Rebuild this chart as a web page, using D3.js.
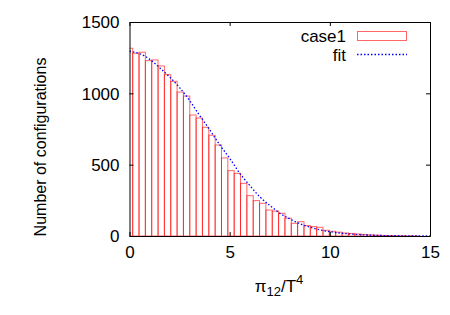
<!DOCTYPE html>
<html>
<head>
<meta charset="utf-8">
<script src="https://cdn.jsdelivr.net/npm/d3@7"></script>
<style>
  body { margin: 0; background: #fff; }
  text { font-family: "Liberation Sans", Arial, sans-serif; fill: #000; }
</style>
</head>
<body>
<div id="chart"></div>
<script>
// histogram bins (centres, in units of pi12/T^4) and counts
var binCenters = [0, 0.317, 0.633, 0.95, 1.267, 1.583, 1.9, 2.217, 2.533, 2.85,
  3.167, 3.483, 3.8, 4.117, 4.433, 4.75, 5.067, 5.383, 5.7, 6.017,
  6.333, 6.65, 6.967, 7.283, 7.6, 7.917, 8.233, 8.55, 8.867, 9.183,
  9.5, 9.817, 10.133, 10.45, 10.767, 11.083, 11.4, 11.717, 12.033, 12.35,
  12.667, 12.983, 13.3, 13.617, 13.933, 14.25];
var binCounts = [1316, 1281, 1288, 1229, 1234, 1192, 1131, 1084, 1009, 981,
  848, 827, 762, 706, 638, 547, 458, 439, 369, 283,
  248, 229, 182, 175, 159, 125, 89, 100, 73, 66,
  61, 40, 33, 27, 21, 18, 14, 11, 8, 6,
  4, 3, 2, 2, 1, 1];
var binWidth = 0.3167;

// fit curve
var fitX = [0, 0.5, 1, 1.5, 2, 2.5, 3, 3.5, 4, 4.5, 5, 5.5, 6, 6.5, 7, 7.5,
  8, 8.5, 9, 9.5, 10, 10.5, 11, 11.5, 12, 12.5, 13, 13.5, 14, 14.5, 15];
var fitY = [1295, 1278, 1240, 1180, 1115, 1040, 950, 845, 745, 640, 545, 440,
  355, 275, 215, 160, 120, 86, 62, 43, 30, 21, 14, 9, 6, 4, 2.5, 1.5, 1, 0.5, 0.3];

var xTicks = [0, 5, 10, 15];
var yTicks = [0, 500, 1000, 1500];
var seriesNames = ["case1", "fit"];

function init() {
  var w = 450, h = 315;
  var left = 129.5, right = 430, top = 22, bottom = 236;

  var x = d3.scaleLinear().domain([0, 15]).range([left, right]);
  var y = d3.scaleLinear().domain([0, 1500]).range([bottom, top]);

  var svg = d3.select("#chart").append("svg")
    .attr("width", w).attr("height", h);

  svg.append("clipPath").attr("id", "clip")
    .append("rect")
    .attr("x", left).attr("y", top - 1)
    .attr("width", right - left).attr("height", bottom - top + 2);

  var plot = svg.append("g").attr("clip-path", "url(#clip)");

  plot.selectAll("rect.bin")
    .data(binCenters)
    .enter()
    .append("rect")
    .attr("class", "bin")
    .attr("x", function(d) { return x(d - binWidth / 2); })
    .attr("width", function(d) { return x(binWidth) - x(0); })
    .attr("y", function(d, i) { return y(binCounts[i]); })
    .attr("height", function(d, i) { return bottom - y(binCounts[i]); })
    .attr("fill", "none")
    .attr("stroke", "#ff0000")
    .attr("stroke-opacity", 0.6)
    .attr("stroke-width", 1);

  var line = d3.line()
    .x(function(d) { return x(d); })
    .y(function(d, i) { return y(fitY[i]); })
    .curve(d3.curveMonotoneX);

  plot.append("path")
    .datum(fitX)
    .attr("d", line)
    .attr("fill", "none")
    .attr("stroke", "#0000ff")
    .attr("stroke-width", 1.3)
    .attr("stroke-dasharray", "1.5,2");

  // axes, ticks pointing inward, mirrored
  var fmt = d3.format("d");
  var xb = svg.append("g").attr("transform", "translate(0," + bottom + ")")
    .call(d3.axisBottom(x).tickValues(xTicks).tickFormat(fmt).tickSizeInner(-4).tickSizeOuter(0).tickPadding(10));
  var xt = svg.append("g").attr("transform", "translate(0," + top + ")")
    .call(d3.axisTop(x).tickValues(xTicks).tickSizeInner(-4).tickSizeOuter(0).tickFormat(""));
  var yl = svg.append("g").attr("transform", "translate(" + left + ",0)")
    .call(d3.axisLeft(y).tickValues(yTicks).tickFormat(fmt).tickSizeInner(-4).tickSizeOuter(0).tickPadding(10));
  var yr = svg.append("g").attr("transform", "translate(" + right + ",0)")
    .call(d3.axisRight(y).tickValues(yTicks).tickSizeInner(-4).tickSizeOuter(0).tickFormat(""));

  [xb, xt, yl, yr].forEach(function(g) {
    g.select(".domain").attr("stroke", "#000");
    g.selectAll(".tick line").attr("stroke", "#000");
    g.selectAll(".tick text")
      .style("font-family", "'Liberation Sans', Arial, sans-serif")
      .style("font-size", "17px")
      .attr("fill", "#000");
  });
  yl.selectAll(".tick text").attr("dy", "0.35em");

  // x label
  var xl = svg.append("text")
    .attr("x", 279).attr("y", 291.5)
    .attr("text-anchor", "middle")
    .style("font-size", "17px");
  xl.append("tspan").text("\u03c0");
  xl.append("tspan").attr("dy", 4).style("font-size", "13px").text("12");
  xl.append("tspan").attr("dy", -4).text("/T");
  xl.append("tspan").attr("dy", -8).style("font-size", "13px").text("4");

  // y label
  svg.append("text")
    .attr("transform", "translate(46,147) rotate(-90)")
    .attr("text-anchor", "middle")
    .style("font-size", "16px")
    .text("Number of configurations");

  // legend
  var leg = svg.append("g");
  leg.append("text").attr("x", 346).attr("y", 41.5)
    .attr("text-anchor", "end").style("font-size", "17px").text(seriesNames[0]);
  leg.append("rect").attr("x", 357.5).attr("y", 31.5)
    .attr("width", 49).attr("height", 9)
    .attr("fill", "none").attr("stroke", "#ff0000").attr("stroke-opacity", 0.6).attr("stroke-width", 1);
  leg.append("text").attr("x", 346).attr("y", 60.5)
    .attr("text-anchor", "end").style("font-size", "17px").text(seriesNames[1]);
  leg.append("line").attr("x1", 357).attr("x2", 407).attr("y1", 54.5).attr("y2", 54.5)
    .attr("stroke", "#0000ff").attr("stroke-width", 1.3).attr("stroke-dasharray", "1.5,2");
}

window.onload = init;
</script>
</body>
</html>
